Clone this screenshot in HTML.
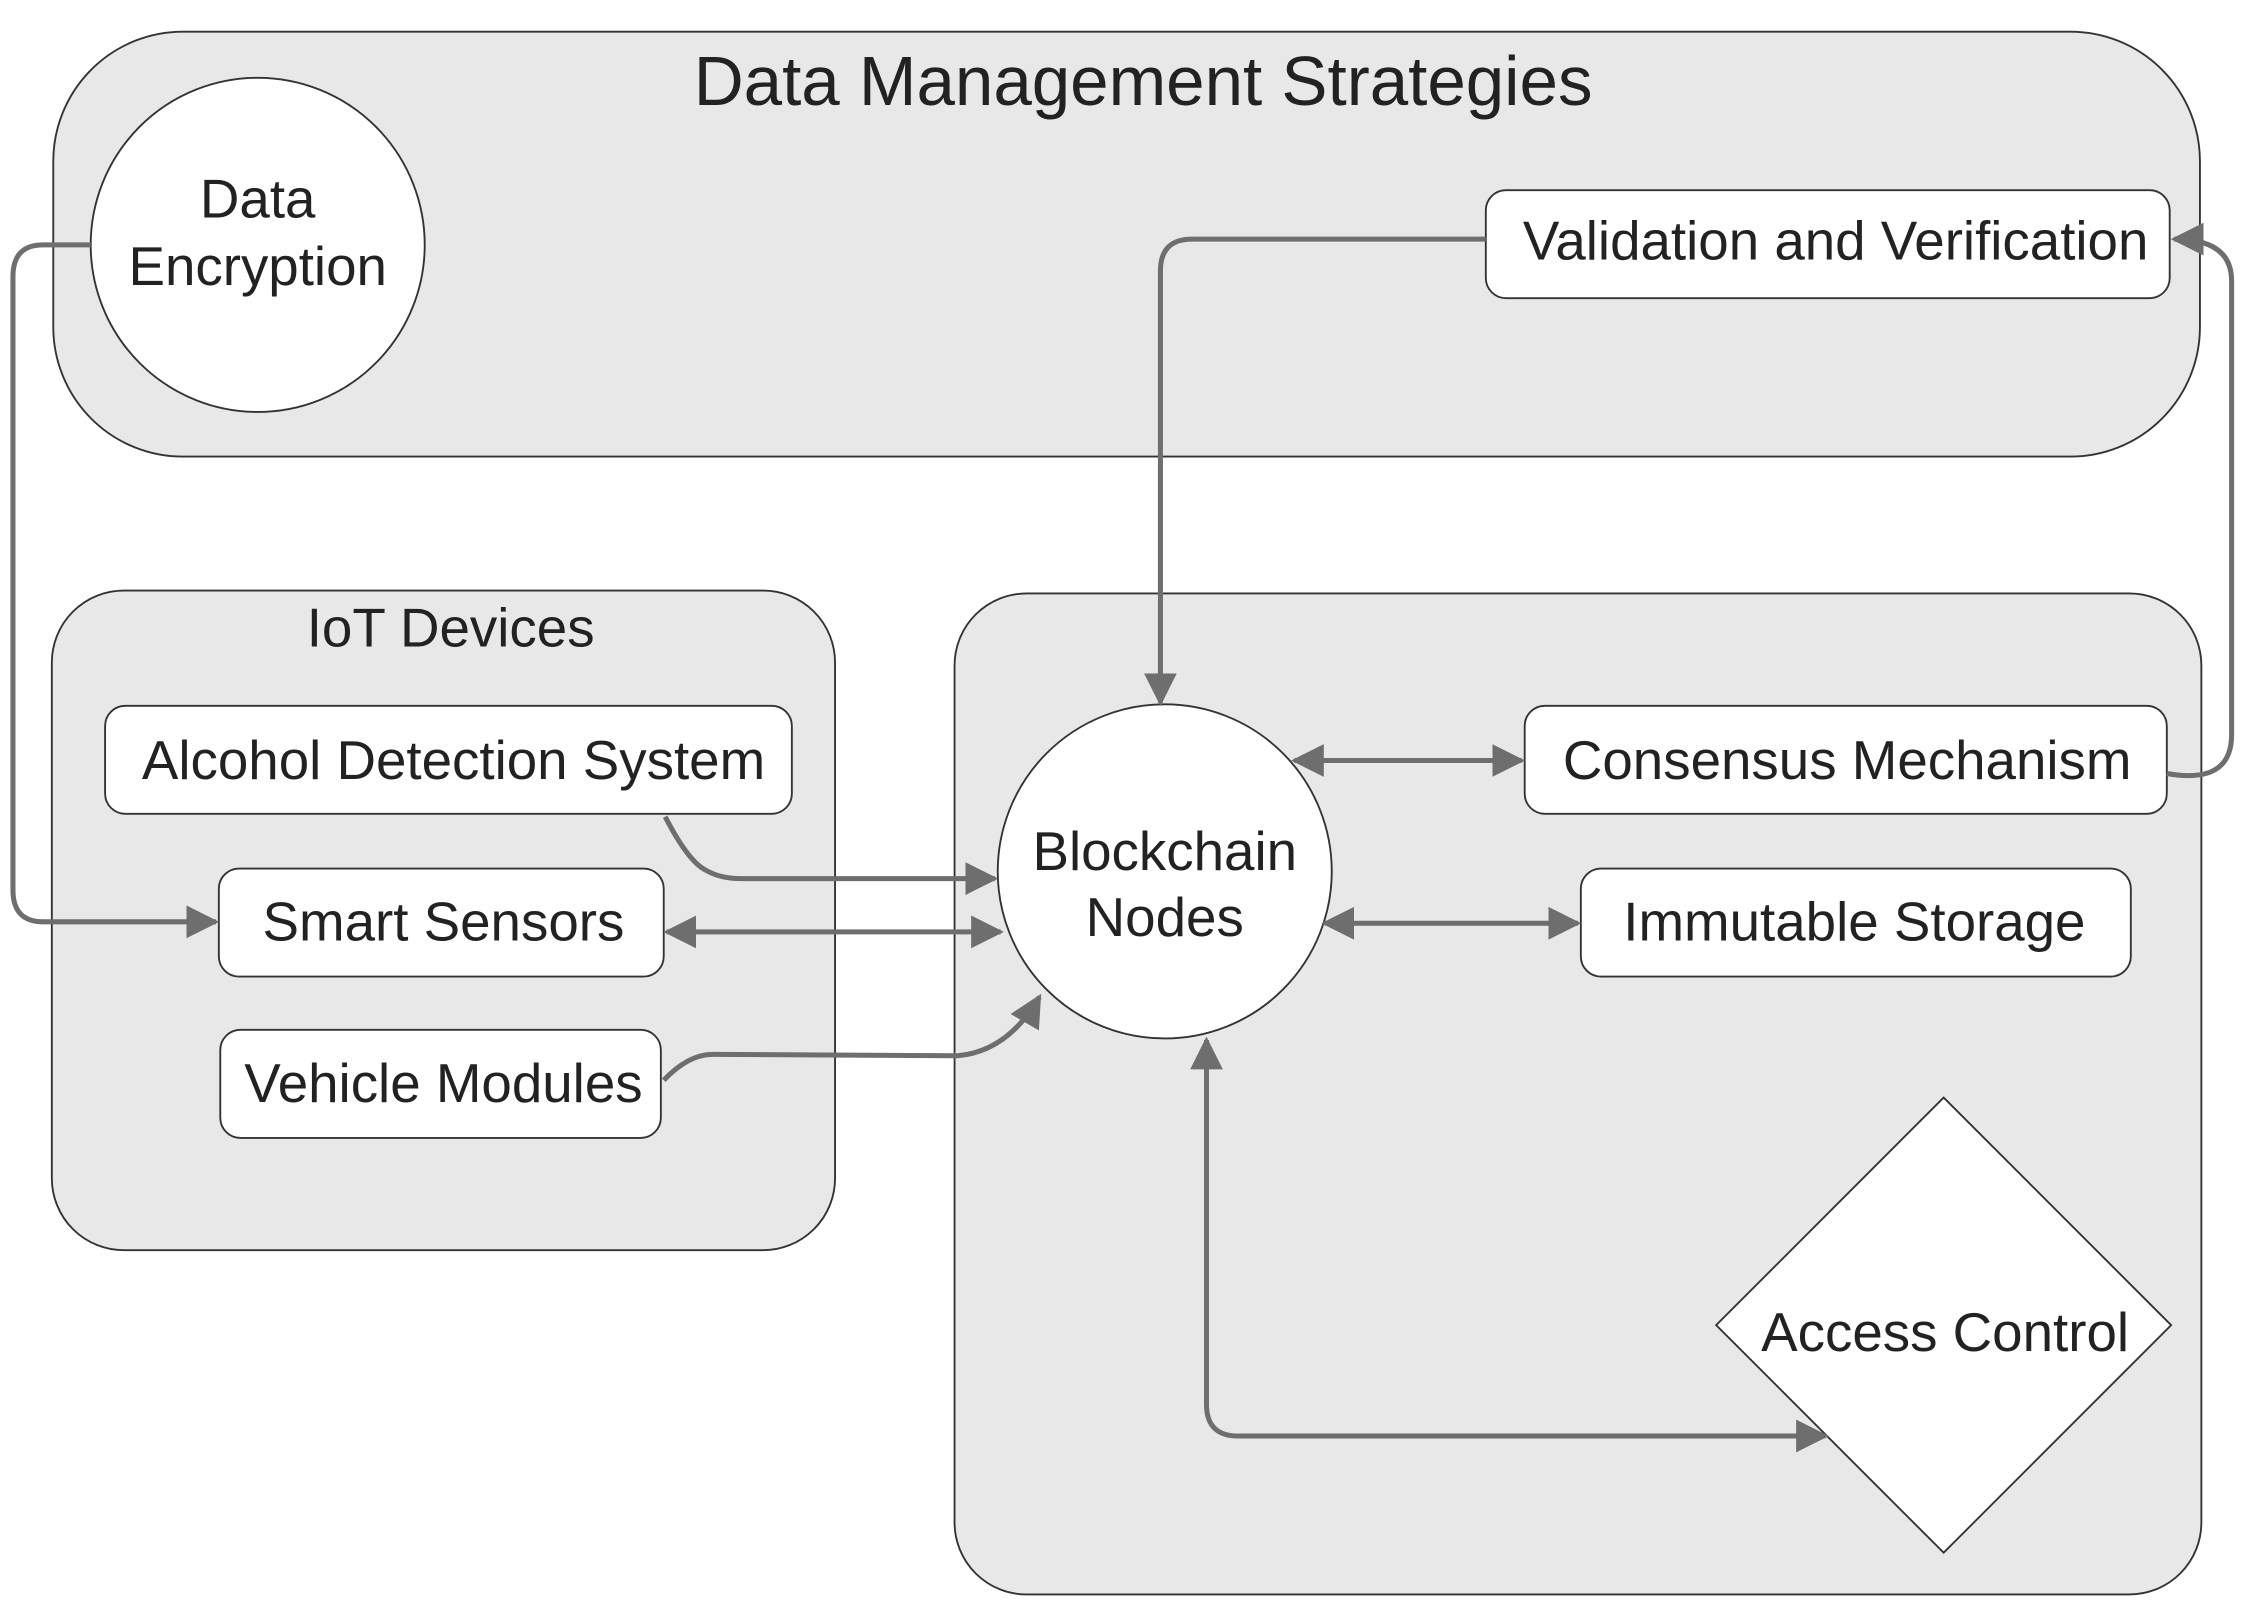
<!DOCTYPE html>
<html><head><meta charset="utf-8"><style>html,body{margin:0;padding:0;background:#fff}svg{display:block}</style></head>
<body>
<svg width="2246" height="1606" viewBox="0 0 1560 1115" preserveAspectRatio="none" xmlns="http://www.w3.org/2000/svg" font-family="Liberation Sans, Arial, sans-serif" fill="#222">
<defs>
<marker id="a" viewBox="0 0 10 10" refX="9" refY="5" markerWidth="6.5" markerHeight="6.5" orient="auto-start-reverse" markerUnits="strokeWidth"><path d="M0,0 L10,5 L0,10 z" fill="#6e6e6e"/></marker>
</defs>
<g stroke="#333" stroke-width="1.3">
<rect x="37" y="22" width="1491" height="295" rx="90" fill="#e8e8e8"/>
<rect x="36" y="410" width="544" height="458" rx="50" fill="#e8e8e8"/>
<rect x="663" y="412" width="866" height="695" rx="50" fill="#e8e8e8"/>
<circle cx="179" cy="170" r="116" fill="#fff"/>
<rect x="1032" y="132" width="475" height="75" rx="14" fill="#fff"/>
<rect x="73" y="490" width="477" height="75" rx="14" fill="#fff"/>
<rect x="152" y="603" width="309" height="75" rx="14" fill="#fff"/>
<rect x="153" y="715" width="306" height="75" rx="14" fill="#fff"/>
<circle cx="809" cy="605" r="116" fill="#fff"/>
<rect x="1059" y="490" width="446" height="75" rx="14" fill="#fff"/>
<rect x="1098" y="603" width="382" height="75" rx="14" fill="#fff"/>
<path d="M1350,762 L1508,920 L1350,1078 L1192,920 Z" fill="#fff"/>
</g>
<g stroke="#6e6e6e" stroke-width="3.5" fill="none">
<path d="M63,170 L30,170 Q9,170 9,192 L9,618 Q9,640 30,640 L150,640" marker-end="url(#a)"/>
<path d="M1032,166 L828,166 Q806,166 806,188 L806,488" marker-end="url(#a)"/>
<path d="M1505,537 Q1550,545 1550,510 L1550,195 Q1550,166 1510,166" marker-end="url(#a)"/>
<path d="M899,528 L1057,528" marker-start="url(#a)" marker-end="url(#a)"/>
<path d="M920,641 L1096,641" marker-start="url(#a)" marker-end="url(#a)"/>
<path d="M462,567 Q478,598 490,604 Q500,610 515,610 L691,610" marker-end="url(#a)"/>
<path d="M463,647 L695,647" marker-start="url(#a)" marker-end="url(#a)"/>
<path d="M461,750 Q478,732 495,732 L665,733 Q700,730 722,692" marker-end="url(#a)"/>
<path d="M838,722 L838,975 Q838,997 860,997 L1268,997" marker-start="url(#a)" marker-end="url(#a)"/>
</g>
<g text-anchor="middle" font-size="38">
<text x="794" y="73" font-size="48">Data Management Strategies</text>
<text x="179" y="151">Data</text>
<text x="179" y="198">Encryption</text>
<text x="1275" y="180">Validation and Verification</text>
<text x="313" y="449">IoT Devices</text>
<text x="315" y="541">Alcohol Detection System</text>
<text x="308" y="653">Smart Sensors</text>
<text x="308" y="765">Vehicle Modules</text>
<text x="809" y="604">Blockchain</text>
<text x="809" y="650">Nodes</text>
<text x="1283" y="541">Consensus Mechanism</text>
<text x="1288" y="653">Immutable Storage</text>
<text x="1351" y="938">Access Control</text>
</g>
</svg>
</body></html>
